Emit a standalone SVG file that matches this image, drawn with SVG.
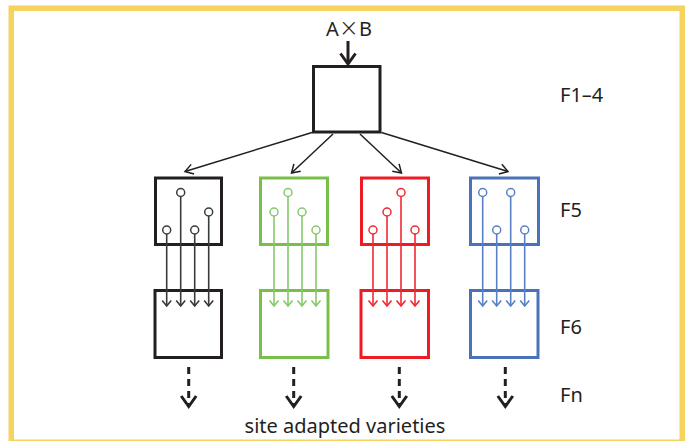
<svg xmlns="http://www.w3.org/2000/svg" width="686" height="441" viewBox="0 0 686 441">
<style>
.frame{fill:none;stroke:#F4D35E;stroke-width:5.5}
.box{fill:none;stroke-width:3}
.k{stroke:#231F20}
.g{stroke:#78C04A}
.r{stroke:#ED1C24}
.b{stroke:#4A72B8}
.lk{stroke:#3A3A3A}
.lg{stroke:#84C96A}
.lr{stroke:#EE2A33}
.lb{stroke:#5A80C4}
.pin{fill:#fff;stroke-width:1.5}
.stem{fill:none;stroke-width:1.6}
.lbl{font-family:"Noto Sans","Open Sans",sans-serif;font-size:20px;fill:#231F20}
.times{font-family:"DejaVu Sans",sans-serif;font-weight:200;font-size:24px}
.conn{fill:none;stroke:#231F20;stroke-width:1.5}
.dash{fill:none;stroke:#231F20;stroke-width:3;stroke-dasharray:7,5}
</style>
<defs>
<marker id="ah" markerUnits="userSpaceOnUse" viewBox="-12 -8 14 16" markerWidth="14" markerHeight="16" refX="0" refY="0" orient="auto" overflow="visible">
<path d="M-8,-5 L0,0 L-8,5" fill="none" stroke="#231F20" stroke-width="1.5"/>
</marker>
<marker id="ahBig" markerUnits="userSpaceOnUse" viewBox="-14 -10 16 20" markerWidth="16" markerHeight="20" refX="0" refY="0" orient="auto" overflow="visible">
<path d="M-10.5,-7.5 L0,0 L-10.5,7.5" fill="none" stroke="#231F20" stroke-width="3"/>
</marker>
<marker id="mk" markerUnits="userSpaceOnUse" viewBox="-8 -6 10 12" markerWidth="10" markerHeight="12" refX="0" refY="0" orient="auto" overflow="visible">
<path d="M-5.5,-4.5 L0,0 L-5.5,4.5" fill="none" stroke="#3A3A3A" stroke-width="1.6"/>
</marker>
<marker id="mg" markerUnits="userSpaceOnUse" viewBox="-8 -6 10 12" markerWidth="10" markerHeight="12" refX="0" refY="0" orient="auto" overflow="visible">
<path d="M-5.5,-4.5 L0,0 L-5.5,4.5" fill="none" stroke="#84C96A" stroke-width="1.6"/>
</marker>
<marker id="mr" markerUnits="userSpaceOnUse" viewBox="-8 -6 10 12" markerWidth="10" markerHeight="12" refX="0" refY="0" orient="auto" overflow="visible">
<path d="M-5.5,-4.5 L0,0 L-5.5,4.5" fill="none" stroke="#EE2A33" stroke-width="1.6"/>
</marker>
<marker id="mb" markerUnits="userSpaceOnUse" viewBox="-8 -6 10 12" markerWidth="10" markerHeight="12" refX="0" refY="0" orient="auto" overflow="visible">
<path d="M-5.5,-4.5 L0,0 L-5.5,4.5" fill="none" stroke="#5A80C4" stroke-width="1.6"/>
</marker>
</defs>
<rect width="686" height="441" fill="#fff"/>
<rect class="frame" x="11.25" y="8.25" width="671" height="434"/>

<g id="cross-label"><text class="lbl" x="349" y="35.5" text-anchor="middle">A<tspan class="times">×</tspan>B</text></g>

<g id="F1-4"><rect class="box k" x="313.5" y="66.5" width="66.5" height="65.5"/></g>

<g id="F5-black"><rect class="box k" x="155.5" y="178" width="66" height="66.5"/></g>
<g id="F5-green"><rect class="box g" x="260.5" y="178" width="67" height="66.5"/></g>
<g id="F5-red"><rect class="box r" x="361.5" y="178" width="67" height="66.5"/></g>
<g id="F5-blue"><rect class="box b" x="470.5" y="178" width="68" height="66.5"/></g>

<g id="F6-black"><rect class="box k" x="155" y="290.5" width="66.5" height="67"/></g>
<g id="F6-green"><rect class="box g" x="260.5" y="290.5" width="67.5" height="67"/></g>
<g id="F6-red"><rect class="box r" x="361" y="290.5" width="67.5" height="67"/></g>
<g id="F6-blue"><rect class="box b" x="470.5" y="290.5" width="67.5" height="67"/></g>

<g id="connectors">
<line class="conn" x1="348" y1="41" x2="348" y2="64" marker-end="url(#ahBig)" style="stroke-width:3"/>
<line class="conn" x1="312" y1="132.5" x2="185" y2="171.5" marker-end="url(#ah)"/>
<line class="conn" x1="333" y1="134" x2="291.5" y2="173" marker-end="url(#ah)"/>
<line class="conn" x1="360" y1="134" x2="401.5" y2="173" marker-end="url(#ah)"/>
<line class="conn" x1="381.5" y1="132.5" x2="508" y2="171.5" marker-end="url(#ah)"/>

<g class="stem lk">
<line x1="166.7" y1="234" x2="166.7" y2="306" marker-end="url(#mk)"/>
<line x1="180.7" y1="196.5" x2="180.7" y2="306" marker-end="url(#mk)"/>
<line x1="194.7" y1="234" x2="194.7" y2="306" marker-end="url(#mk)"/>
<line x1="208.7" y1="216" x2="208.7" y2="306" marker-end="url(#mk)"/>
</g>
<g class="stem lg">
<line x1="274" y1="216" x2="274" y2="306" marker-end="url(#mg)"/>
<line x1="288" y1="196.5" x2="288" y2="306" marker-end="url(#mg)"/>
<line x1="302" y1="216" x2="302" y2="306" marker-end="url(#mg)"/>
<line x1="316" y1="234" x2="316" y2="306" marker-end="url(#mg)"/>
</g>
<g class="stem lr">
<line x1="373" y1="234" x2="373" y2="306" marker-end="url(#mr)"/>
<line x1="387" y1="216" x2="387" y2="306" marker-end="url(#mr)"/>
<line x1="401" y1="196.5" x2="401" y2="306" marker-end="url(#mr)"/>
<line x1="415" y1="234" x2="415" y2="306" marker-end="url(#mr)"/>
</g>
<g class="stem lb">
<line x1="482.7" y1="196.5" x2="482.7" y2="306" marker-end="url(#mb)"/>
<line x1="496.7" y1="234" x2="496.7" y2="306" marker-end="url(#mb)"/>
<line x1="510.7" y1="196.5" x2="510.7" y2="306" marker-end="url(#mb)"/>
<line x1="524.7" y1="234" x2="524.7" y2="306" marker-end="url(#mb)"/>
</g>

<line class="dash" x1="188.7" y1="367" x2="188.7" y2="406.5" marker-end="url(#ahBig)"/>
<line class="dash" x1="293.7" y1="367" x2="293.7" y2="406.5" marker-end="url(#ahBig)"/>
<line class="dash" x1="399.3" y1="367" x2="399.3" y2="406.5" marker-end="url(#ahBig)"/>
<line class="dash" x1="505.3" y1="367" x2="505.3" y2="406.5" marker-end="url(#ahBig)"/>
</g>

<g id="pins">
<g class="pin lk">
<circle cx="166.7" cy="230" r="4"/><circle cx="180.7" cy="192.5" r="4"/><circle cx="194.7" cy="230" r="4"/><circle cx="208.7" cy="212" r="4"/>
</g>
<g class="pin lg">
<circle cx="274" cy="212" r="4"/><circle cx="288" cy="192.5" r="4"/><circle cx="302" cy="212" r="4"/><circle cx="316" cy="230" r="4"/>
</g>
<g class="pin lr">
<circle cx="373" cy="230" r="4"/><circle cx="387" cy="212" r="4"/><circle cx="401" cy="192.5" r="4"/><circle cx="415" cy="230" r="4"/>
</g>
<g class="pin lb">
<circle cx="482.7" cy="192.5" r="4"/><circle cx="496.7" cy="230" r="4"/><circle cx="510.7" cy="192.5" r="4"/><circle cx="524.7" cy="230" r="4"/>
</g>
</g>

<g id="labels">
<text class="lbl" x="560" y="102">F1–4</text>
<text class="lbl" x="560" y="217">F5</text>
<text class="lbl" x="560" y="334">F6</text>
<text class="lbl" x="560" y="401.5">Fn</text>
<text class="lbl" x="345" y="433" text-anchor="middle">site adapted varieties</text>
</g>
</svg>
